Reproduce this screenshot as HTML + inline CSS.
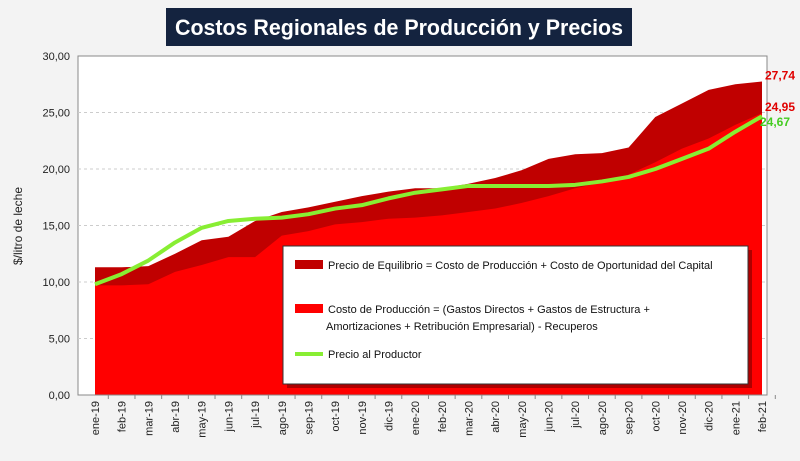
<!DOCTYPE html>
<html><head><meta charset="utf-8"><style>
body{margin:0;width:800px;height:456px;background:#f3f3f3;font-family:"Liberation Sans",sans-serif;overflow:hidden}
</style></head><body>
<svg width="800" height="456" id="svg" xmlns="http://www.w3.org/2000/svg">
<rect x="0" y="0" width="800" height="456" fill="#f3f3f3"/>
<rect x="78" y="56" width="689" height="339" fill="#fff" stroke="#888" stroke-width="1"/>
<g id="grid"></g>
<g id="areas"></g>
<g id="axes"></g>
<rect x="166" y="8" width="466" height="38" fill="#14233f"/>
<text x="175" y="35" textLength="448" lengthAdjust="spacingAndGlyphs" fill="#fff" font-size="22" font-weight="bold">Costos Regionales de Producción y Precios</text>
<text transform="translate(22,226) rotate(-90)" text-anchor="middle" font-size="12" fill="#222">$/litro de leche</text>
<g>
<rect x="287" y="250" width="465" height="138" fill="#7a0000" opacity="0.6"/>
<rect x="283" y="246" width="465" height="138" fill="#fff" stroke="#333"/>
<rect x="295" y="260" width="28" height="9" fill="#c00000"/>
<text x="328" y="269" font-size="11" fill="#111">Precio de Equilibrio = Costo de Producción + Costo de Oportunidad del Capital</text>
<rect x="295" y="304" width="28" height="9" fill="#ff0000"/>
<text x="328" y="313" font-size="11" fill="#111">Costo de Producción = (Gastos Directos + Gastos de Estructura +</text>
<text x="326" y="330" font-size="11" fill="#111">Amortizaciones + Retribución Empresarial) - Recuperos</text>
<line x1="295" y1="354" x2="323" y2="354" stroke="#88ee33" stroke-width="4"/>
<text x="328" y="358" font-size="11" fill="#111">Precio al Productor</text>
</g>
<g id="labels"></g>
</svg>
<script>
const categories=["ene-19","feb-19","mar-19","abr-19","may-19","jun-19","jul-19","ago-19","sep-19","oct-19","nov-19","dic-19","ene-20","feb-20","mar-20","abr-20","may-20","jun-20","jul-20","ago-20","sep-20","oct-20","nov-20","dic-20","ene-21","feb-21"];
const equilibrio=[11.3,11.3,11.4,12.5,13.7,14.0,15.4,16.2,16.6,17.1,17.6,18.0,18.3,18.3,18.7,19.2,19.9,20.9,21.3,21.4,21.9,24.6,25.8,27.0,27.5,27.74];
const costo=[9.7,9.7,9.8,10.9,11.5,12.2,12.2,14.1,14.5,15.1,15.3,15.6,15.7,15.9,16.2,16.5,17.0,17.6,18.3,18.8,19.5,20.6,21.8,22.7,23.9,24.95];
const precio=[9.8,10.7,11.9,13.5,14.8,15.4,15.6,15.7,16.0,16.5,16.8,17.4,17.9,18.2,18.5,18.5,18.5,18.5,18.6,18.9,19.3,20.0,20.9,21.8,23.3,24.67];
const yTicks=[0,5,10,15,20,25,30];
const NS="http://www.w3.org/2000/svg";
const x0=95,x1=762,yb=395,yt=56,ymax=30;
const X=i=>x0+i*(x1-x0)/(categories.length-1);
const Y=v=>yb-v/ymax*(yb-yt);
function mk(tag,attrs,parent){const e=document.createElementNS(NS,tag);for(const k in attrs)e.setAttribute(k,attrs[k]);document.getElementById(parent).appendChild(e);return e;}
const fmt=v=>v.toFixed(2).replace('.',',');
yTicks.forEach(t=>{
 if(t>0&&t<30){const l=mk('line',{x1:78,x2:767,y1:Y(t),y2:Y(t),stroke:'#ccc','stroke-dasharray':'3,3'},'grid');
 
 }
 const tx=mk('text',{x:70,y:Y(t)+4,'text-anchor':'end','font-size':11,fill:'#222'},'axes');tx.textContent=fmt(t);
 
 
});
function areaPath(arr){let d=`M${X(0)},${yb}`;arr.forEach((v,i)=>d+=` L${X(i)},${Y(v)}`);return d+` L${X(arr.length-1)},${yb}Z`;}
const a1=mk('path',{d:areaPath(equilibrio),fill:'#c00000'},'areas');


const a2=mk('path',{d:areaPath(costo),fill:'#ff0000'},'areas');


const ln=mk('polyline',{points:precio.map((v,i)=>X(i)+','+Y(v)).join(' '),fill:'none',stroke:'#88ee33','stroke-width':4,'stroke-linejoin':'round'},'areas');


mk('line',{x1:78,x2:767,y1:yb,y2:yb,stroke:'#888'},'axes');
categories.forEach((c,i)=>{
 const tk=mk('line',{x1:X(i)+13.3,x2:X(i)+13.3,y1:yb,y2:yb+4,stroke:'#888'},'axes');
 
 
 const t=mk('text',{transform:`translate(${X(i)+4},${yb+6}) rotate(-90)`,'text-anchor':'end','font-size':11,fill:'#222'},'axes');
 t.textContent=c;
 
 
});
const n=categories.length-1;
[[equilibrio[n],'#e00000',-2,'label-equilibrio-last'],[costo[n],'#e00000',-2,'label-costo-last'],[precio[n],'#44cc22',10,'label-precio-last']].forEach(([v,c,dy,nm])=>{
 const t=mk('text',{x:X(n)+(nm==='label-precio-last'?-2:3),y:Y(v)+dy,'font-size':12,'font-weight':'bold',fill:c},'labels');
 t.textContent=fmt(v);
 
 
});
</script>
</body></html>
